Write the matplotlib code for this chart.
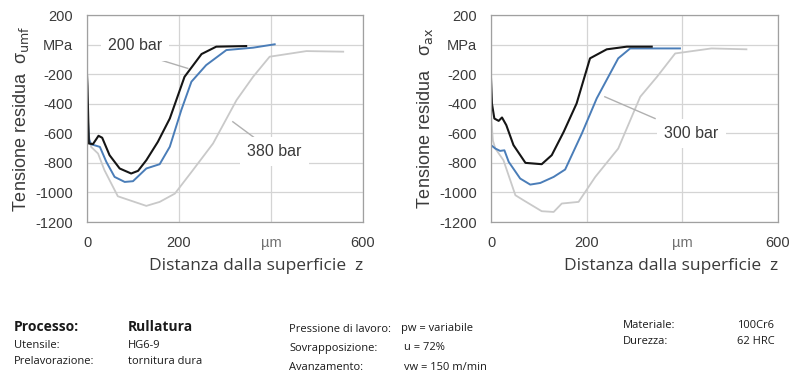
import matplotlib
matplotlib.use("Agg")
import matplotlib.pyplot as plt

# ---- data ----
X_TICKS = [0, 200, 400, 600]
X_TICK_LABELS = ["0", "200", "µm", "600"]
Y_TICKS = [200, 0, -200, -400, -600, -800, -1000, -1200]
Y_TICK_LABELS = ["200", "MPa", "-200", "-400", "-600", "-800", "-1000", "-1200"]

# sigma_umf (left)
umf_200_x = [0, 1, 4, 13, 25, 33, 49, 71, 96, 111, 129, 154, 180, 212, 249, 281, 346]
umf_200_y = [-206, -280, -669, -673, -617, -630, -748, -838, -872, -854, -782, -658, -500, -218, -64, -14, -10]
umf_300_x = [0, 4, 9, 28, 42, 60, 82, 100, 129, 158, 180, 205, 227, 259, 303, 361, 408]
umf_300_y = [-380, -640, -674, -692, -793, -895, -929, -924, -838, -809, -691, -443, -251, -139, -37, -21, 2]
umf_380_x = [0, 3, 9, 24, 38, 67, 129, 158, 191, 230, 274, 325, 361, 397, 477, 557]
umf_380_y = [-420, -600, -692, -737, -850, -1026, -1091, -1064, -1008, -850, -669, -376, -218, -82, -44, -48]

# sigma_ax (right)
ax_200_x = [0, 2, 7, 16, 23, 32, 47, 72, 106, 127, 152, 179, 207, 242, 284, 336]
ax_200_y = [-230, -400, -500, -516, -493, -545, -680, -800, -809, -748, -590, -398, -93, -32, -14, -14]
ax_300_x = [0, 9, 19, 28, 37, 61, 82, 103, 131, 155, 190, 221, 266, 291, 395]
ax_300_y = [-680, -703, -719, -715, -793, -906, -947, -936, -895, -845, -601, -364, -93, -26, -26]
ax_380_x = [0, 4, 9, 26, 51, 68, 106, 131, 148, 183, 218, 266, 312, 347, 385, 461, 534]
ax_380_y = [-480, -650, -703, -782, -1019, -1053, -1127, -1132, -1075, -1064, -895, -703, -353, -218, -60, -26, -32]

TXT = "#3a3a3a"
BLACK = "#151515"
BLUE = "#4a7db8"
GRAY = "#c9c9c9"
LEADER = "#b0b0b0"

plt.rcParams["font.family"] = ["Liberation Sans", "DejaVu Sans"]

fig = plt.figure(figsize=(8, 3.89), dpi=100)
ax1 = fig.add_axes([0.10875, 0.4293, 0.345, 0.5321])
ax2 = fig.add_axes([0.61375, 0.4293, 0.35875, 0.5321])


def style_axes(ax, ylabel):
    ax.set_xlim(0, 600)
    ax.set_ylim(-1200, 200)
    ax.set_xticks(X_TICKS)
    ax.set_xticklabels(X_TICK_LABELS)
    ax.set_yticks(Y_TICKS)
    ax.set_yticklabels(Y_TICK_LABELS)
    ax.tick_params(axis="both", length=0, labelsize=10.5, colors=TXT)
    ax.tick_params(axis="x", pad=10)
    ax.tick_params(axis="y", pad=10)
    ax.get_xticklabels()[2].set_color("#707070")
    ax.grid(True, color="#d4d4d4", linewidth=0.9)
    ax.set_axisbelow(True)
    for s in ax.spines.values():
        s.set_color("#a0a0a0")
        s.set_linewidth(0.9)
    ax.set_xlabel("Distanza dalla superficie  z", fontsize=12.5, color=TXT,
                  labelpad=6, loc="right", family=["Open Sans", "DejaVu Sans"])
    ax.set_ylabel(ylabel, fontsize=13, color=TXT, labelpad=3)


def label(ax, text, x, y, lx, ly):
    ax.plot(lx, ly, color=LEADER, lw=1.0, zorder=3)
    ax.text(x, y, text, fontsize=11.5, color=TXT, ha="center", va="center", zorder=4,
            bbox=dict(boxstyle="square,pad=0.45", fc="white", ec="none"))


# left: sigma_umf
ax1.plot(umf_380_x, umf_380_y, color=GRAY, lw=1.3, zorder=2)
ax1.plot(umf_300_x, umf_300_y, color=BLUE, lw=1.4, zorder=2)
ax1.plot(umf_200_x, umf_200_y, color=BLACK, lw=1.5, zorder=2)
style_axes(ax1, "Tensione residua  σ$_{\\rm umf}$")
label(ax1, "200 bar", 104, -9, [125, 219], [-71, -161])
label(ax1, "380 bar", 408, -725, [317, 383], [-522, -674])

# right: sigma_ax
ax2.plot(ax_380_x, ax_380_y, color=GRAY, lw=1.3, zorder=2)
ax2.plot(ax_300_x, ax_300_y, color=BLUE, lw=1.4, zorder=2)
ax2.plot(ax_200_x, ax_200_y, color=BLACK, lw=1.5, zorder=2)
style_axes(ax2, "Tensione residua   σ$_{\\rm ax}$")
label(ax2, "300 bar", 419, -601, [238, 343], [-353, -500])

# ---- process info block ----
def info(x, y, s, bold=False):
    fig.text(x / 800, 1 - y / 389, s, fontsize=10 if bold else 8,
             fontweight="bold" if bold else "normal", family=["Open Sans", "DejaVu Sans"],
             color="#1a1a1a", ha="left", va="center")


info(14, 327, "Processo:", bold=True)
info(128, 327, "Rullatura", bold=True)
info(14, 345, "Utensile:")
info(128, 345, "HG6-9")
info(14, 361, "Prelavorazione:")
info(128, 361, "tornitura dura")
info(289, 329, "Pressione di lavoro:")
info(401, 329, "pw = variabile")
info(289, 348, "Sovrapposizione:")
info(404, 348, "u = 72%")
info(289, 367, "Avanzamento:")
info(404, 367, "vw = 150 m/min")
info(623, 325, "Materiale:")
info(737, 325, "100Cr6")
info(623, 342, "Durezza:")
info(737, 342, "62 HRC")

fig.savefig("out.png", dpi=100, facecolor="white")
